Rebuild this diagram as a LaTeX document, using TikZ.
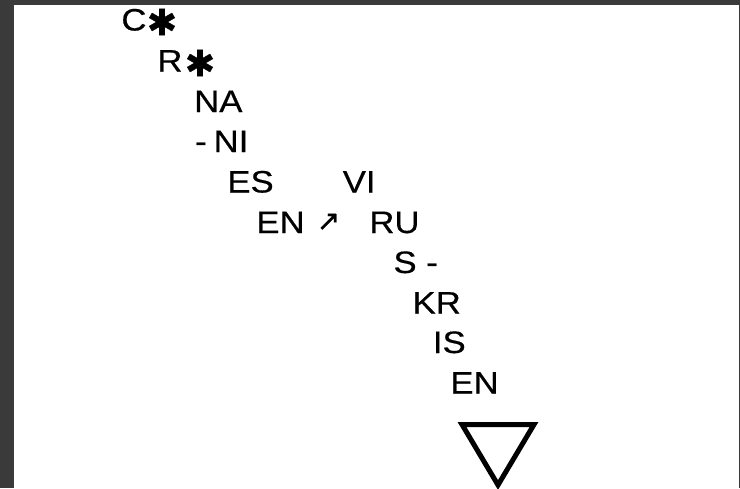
\documentclass[tikz,border=0pt]{standalone}
\usepackage{fontspec}
\setmainfont[BoldFont=Liberation Sans, BoldFeatures={FakeBold=0.45}]{Liberation Sans}
\newfontfamily\symfont[BoldFont=DejaVu Sans, BoldFeatures={FakeBold=1.0}]{DejaVu Sans}
\usepackage{graphicx}
\definecolor{framegray}{RGB}{58,58,58}
\newcommand\hstretch[1]{\scalebox{1.12}[1]{#1}}
\begin{document}
\begin{tikzpicture}[x=1pt,y=-1pt,
  lbl/.style={anchor=base west, inner sep=0pt, outer sep=0pt, font=\fontsize{31}{34}\selectfont\bfseries},
  star/.style={anchor=center, inner sep=0pt, outer sep=0pt, font=\symfont\fontsize{36}{38}\selectfont\bfseries},
  arr/.style={anchor=center, inner sep=0pt, outer sep=0pt, font=\symfont\fontsize{28}{30}\selectfont\bfseries},
  tri/.style={draw=black, line width=5pt, miter limit=10}]
\useasboundingbox (0,0) rectangle (740,488);
\fill[framegray] (0,0) rectangle (740,488);
\fill[white] (14,4.5) rectangle (738.5,488);
% column of syllables
\node[lbl] (c)   at (121.4,30.5) {\hstretch{C}};
\node[star] (s1) at (162,22)     {✱};
\node[lbl] (r)   at (157.4,71.5) {\hstretch{R}};
\node[star] (s2) at (200,63)     {✱};
\node[lbl] (na)  at (194.2,112)  {\hstretch{NA}};
\node[lbl] (ni)  at (195.2,152)  {\hstretch{{\spaceskip=0.2em\relax - NI}}};
\node[lbl] (es)  at (227.4,192.5) {\hstretch{ES}};
\node[lbl] (vi)  at (342.8,192.5) {\hstretch{VI}};
\node[lbl] (en1) at (256.4,233)  {\hstretch{EN}};
\node[arr] (up)  at (328.5,222)  {↗};
\node[lbl] (ru)  at (369.4,233)  {\hstretch{RU}};
\node[lbl] (sd)  at (393.5,273)  {\hstretch{S -}};
\node[lbl] (kr)  at (412.6,313.5) {\hstretch{KR}};
\node[lbl] (is)  at (432.9,353)  {\hstretch{IS}};
\node[lbl] (en2) at (450.4,393.5) {\hstretch{EN}};
% triangle
\coordinate (tl) at (462,424.5);
\coordinate (tr) at (534,424.5);
\coordinate (ap) at (498,485);
\draw[tri] (tl) -- (tr) -- (ap) -- cycle;
\end{tikzpicture}
\end{document}
